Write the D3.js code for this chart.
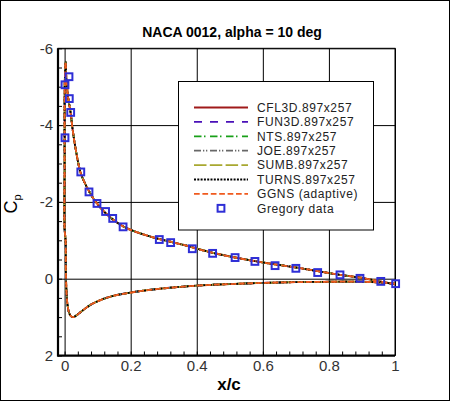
<!DOCTYPE html>
<html>
<head>
<meta charset="utf-8">
<script src="https://cdn.jsdelivr.net/npm/d3@7"></script>
<style>
  body { margin: 0; background: #fff; }
  text { font-family: 'Liberation Sans', Arial, sans-serif; }
</style>
</head>
<body>
<script>
// CFD curve (all codes lie on top of each other)
var upperX  = [1.0, 0.965, 0.904, 0.834, 0.702, 0.581, 0.45, 0.36, 0.258, 0.178, 0.13, 0.097, 0.077, 0.057, 0.047, 0.035, 0.0245, 0.018, 0.011, 0.006, 0.003];
var upperCp = [0.14, 0.09, -0.015, -0.10, -0.29, -0.45, -0.67, -0.88, -1.10, -1.36, -1.66, -1.97, -2.23, -2.57, -2.80, -3.30, -3.87, -4.33, -4.70, -5.10, -5.65];
var lowerX  = [0.001, 0.0, 0.0, 0.0, 0.003, 0.004, 0.008, 0.014, 0.02, 0.026, 0.035, 0.047, 0.065, 0.087, 0.137, 0.2, 0.29, 0.4, 0.5, 0.6, 0.7, 0.8, 0.9, 0.95, 1.0];
var lowerCp = [-5.3, -4.5, -3.0, -1.3, -1.0, -0.1, 0.62, 0.90, 0.98, 1.0, 0.96, 0.88, 0.76, 0.64, 0.47, 0.36, 0.26, 0.18, 0.14, 0.11, 0.09, 0.08, 0.08, 0.095, 0.13];

// Gregory experiment
var gregX  = [0.0012, 0.0133, 0.0012, 0.0142, 0.0184, 0.049, 0.0738, 0.098, 0.124, 0.1456, 0.177, 0.2866, 0.321, 0.3865, 0.448, 0.516, 0.576, 0.637, 0.700, 0.766, 0.8335, 0.894, 0.957, 1.002];
var gregCp = [-3.67, -5.26, -5.05, -4.69, -4.33, -2.78, -2.26, -1.96, -1.75, -1.57, -1.35, -1.02, -0.94, -0.78, -0.66, -0.55, -0.45, -0.34, -0.27, -0.16, -0.10, -0.01, 0.07, 0.13];

var seriesNames = ['CFL3D.897x257', 'FUN3D.897x257', 'NTS.897x257', 'JOE.897x257', 'SUMB.897x257', 'TURNS.897x257', 'GGNS (adaptive)'];
var seriesColors = ['#a01a1a', '#4a10b8', '#18a018', '#686868', '#a8a830', '#000000', '#f05a1e'];
var seriesDash = [null, '8,8', '7.5,2.5,1.5,4.5', '7,2,1.3,1.7,1.3,2.7', '12.5,3.3', '2,1.3', '5.7,2.7'];

var xTicks = [0, 0.2, 0.4, 0.6, 0.8, 1];
var yTicks = [-6, -4, -2, 0, 2];
var title = 'NACA 0012, alpha = 10 deg';

var w = 450, h = 401;
var GREG_COLOR = '#2e2ed6';

var svg = d3.select('body').append('svg')
  .attr('width', w)
  .attr('height', h);

svg.append('rect')
  .attr('x', 0.5).attr('y', 0.5)
  .attr('width', w - 1).attr('height', h - 1)
  .attr('fill', '#fff').attr('stroke', '#000');

var x = d3.scaleLinear().domain([-0.02, 1]).range([58, 395]);
var y = d3.scaleLinear().domain([-6, 2]).range([48.3, 355.5]);

var x0 = x.range()[0], x1 = x.range()[1];
var y0 = y.range()[0], y1 = y.range()[1];

// grid
svg.append('g')
  .attr('transform', 'translate(0,' + y1 + ')')
  .call(d3.axisBottom(x).tickValues(xTicks).tickSize(-(y1 - y0)).tickFormat(''))
  .call(function(g) { g.select('.domain').remove(); });
svg.append('g')
  .attr('transform', 'translate(' + x0 + ',0)')
  .call(d3.axisLeft(y).tickValues(yTicks).tickSize(-(x1 - x0)).tickFormat(''))
  .call(function(g) { g.select('.domain').remove(); });

// minor ticks
var xMinor = d3.range(0, 1.001, 0.04);
var yMinor = d3.range(-6, 2.001, 0.5);
svg.append('g')
  .attr('transform', 'translate(0,' + y1 + ')')
  .call(d3.axisBottom(x).tickValues(xMinor).tickSize(-4).tickFormat(''))
  .call(function(g) { g.select('.domain').remove(); });
svg.append('g')
  .attr('transform', 'translate(' + x0 + ',0)')
  .call(d3.axisLeft(y).tickValues(yMinor).tickSize(-4).tickFormat(''))
  .call(function(g) { g.select('.domain').remove(); });

svg.selectAll('.tick line').attr('stroke', '#000');

// frame
svg.append('rect')
  .attr('x', x0).attr('y', y0)
  .attr('width', x1 - x0).attr('height', y1 - y0)
  .attr('fill', 'none').attr('stroke', '#000').attr('stroke-width', 1);
svg.append('line')
  .attr('x1', x0).attr('x2', x0).attr('y1', y0).attr('y2', y1 + 1)
  .attr('stroke', '#000').attr('stroke-width', 2.2);
svg.append('line')
  .attr('x1', x0 - 1).attr('x2', x1).attr('y1', y1).attr('y2', y1)
  .attr('stroke', '#000').attr('stroke-width', 2.2);

// tick labels
svg.append('g')
  .attr('transform', 'translate(0,' + y1 + ')')
  .call(d3.axisBottom(x).tickValues(xTicks).tickSize(0).tickPadding(5).tickFormat(function(d) { return String(d); }))
  .call(function(g) { g.select('.domain').remove(); })
  .selectAll('text').attr('font-size', 15).attr('fill', '#333').attr('font-family', 'Liberation Sans');
svg.append('g')
  .attr('transform', 'translate(' + x0 + ',0)')
  .call(d3.axisLeft(y).tickValues(yTicks).tickSize(0).tickPadding(5).tickFormat(function(d) { return String(d); }))
  .call(function(g) { g.select('.domain').remove(); })
  .selectAll('text').attr('font-size', 15).attr('fill', '#333').attr('font-family', 'Liberation Sans');

// curves
svg.append('clipPath').attr('id', 'clip')
  .append('rect').attr('x', x0).attr('y', y0).attr('width', x1 - x0).attr('height', y1 - y0);

var curvePts = upperX.map(function(d, i) { return [d, upperCp[i]]; })
  .concat(lowerX.map(function(d, i) { return [d, lowerCp[i]]; }));

var line = d3.line()
  .x(function(d) { return x(d[0]); })
  .y(function(d) { return y(d[1]); })
  .curve(d3.curveCatmullRom.alpha(0.5));

svg.append('g').attr('clip-path', 'url(#clip)')
  .selectAll('path')
  .data(seriesNames)
  .enter().append('path')
    .attr('d', line(curvePts))
    .attr('fill', 'none')
    .attr('stroke', function(d, i) { return seriesColors[i]; })
    .attr('stroke-width', 1.8)
    .attr('stroke-dasharray', function(d, i) { return seriesDash[i]; });

// Gregory data
svg.append('g')
  .selectAll('rect')
  .data(gregX)
  .enter().append('rect')
    .attr('x', function(d) { return x(d) - 3.4; })
    .attr('y', function(d, i) { return y(gregCp[i]) - 3.4; })
    .attr('width', 6.8).attr('height', 6.8)
    .attr('fill', 'none')
    .attr('stroke', GREG_COLOR)
    .attr('stroke-width', 2);

// legend
var leg = svg.append('g');
leg.append('rect')
  .attr('x', 178.5).attr('y', 81.5).attr('width', 195).attr('height', 148.5)
  .attr('fill', '#fff').attr('stroke', '#000');

var rowY = function(i) { return 107.5 + i * 14.4; };

leg.selectAll('line.key')
  .data(seriesNames)
  .enter().append('line')
    .attr('class', 'key')
    .attr('x1', 194).attr('x2', 248)
    .attr('y1', function(d, i) { return rowY(i); })
    .attr('y2', function(d, i) { return rowY(i); })
    .attr('stroke', function(d, i) { return seriesColors[i]; })
    .attr('stroke-width', 1.8)
    .attr('stroke-dasharray', function(d, i) { return seriesDash[i]; });

leg.append('rect')
  .attr('x', 221 - 3.4).attr('y', rowY(7) - 3.4)
  .attr('width', 6.8).attr('height', 6.8)
  .attr('fill', 'none').attr('stroke', GREG_COLOR).attr('stroke-width', 2);

leg.selectAll('text')
  .data(seriesNames.concat(['Gregory data']))
  .enter().append('text')
    .attr('x', 257)
    .attr('y', function(d, i) { return rowY(i) + 4.3; })
    .attr('font-size', 12)
    .attr('letter-spacing', 0.6)
    .attr('fill', '#222')
    .text(function(d) { return d; });

// titles
svg.append('text')
  .attr('x', 232).attr('y', 37)
  .attr('text-anchor', 'middle')
  .attr('font-size', 14).attr('font-weight', 'bold')
  .text(title);

svg.append('text')
  .attr('x', 229).attr('y', 390)
  .attr('text-anchor', 'middle')
  .attr('font-size', 17).attr('font-weight', 'bold')
  .text('x/c');

var cp = svg.append('text')
  .attr('transform', 'translate(17,204) rotate(-90)')
  .attr('text-anchor', 'middle')
  .attr('font-size', 18);
cp.append('tspan').text('C');
cp.append('tspan').attr('font-size', 11).attr('dy', 4).text('p');
</script>
</body>
</html>
